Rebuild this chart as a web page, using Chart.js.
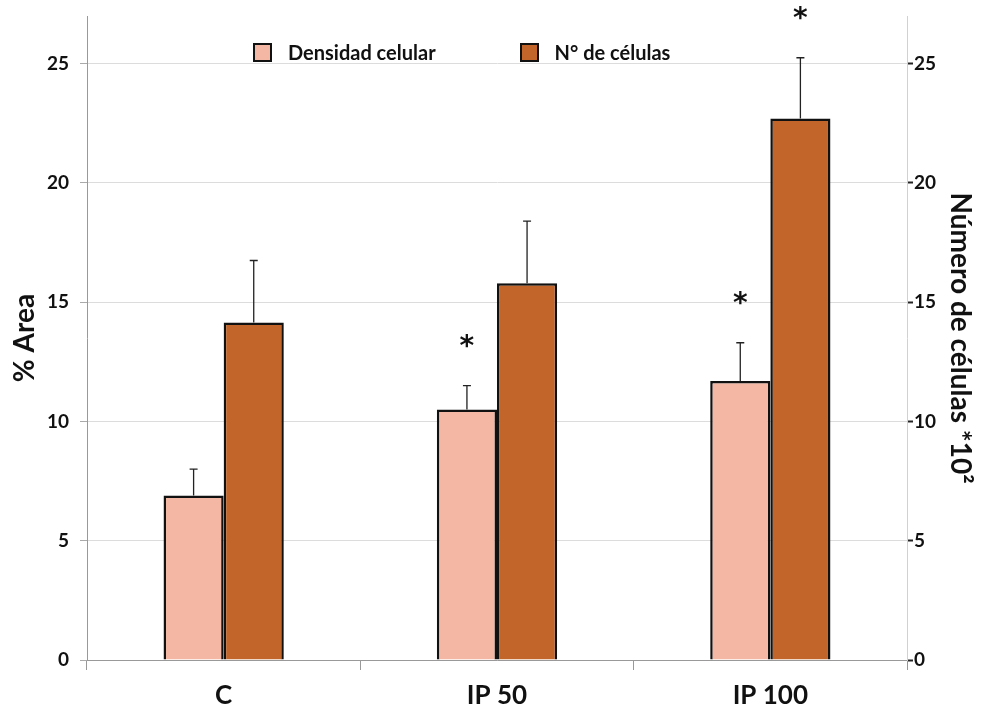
<!DOCTYPE html>
<html lang="es">
  <head>
    <meta charset="UTF-8" />
    <title>Densidad celular</title>
    <script src="https://cdn.jsdelivr.net/npm/chart.js"></script>
    <style>
      html, body { margin: 0; padding: 0; background: #fff; }
      #wrap { position: relative; width: 981px; height: 713px; }
      #leyenda {
        position: absolute; top: 40px; left: 253px;
        font: bold 20px Lato, sans-serif; color: #111;
        display: flex; align-items: center;
      }
      .item { display: flex; align-items: center; }
      .caja { width: 15px; height: 15px; border: 2.5px solid #111; margin-right: 16px; }
    </style>
  </head>
  <body>
    <div id="wrap">
      <canvas id="grafico" width="981" height="713"></canvas>
      <div id="leyenda"></div>
    </div>
    <script>
      // datos
      const grupos = ["C", "IP 50", "IP 100"];
      const densidad = [6.9, 10.5, 11.7];
      const densidadErr = [1.1, 1.0, 1.6];
      const densidadSig = [false, true, true];
      const celulas = [14.15, 15.8, 22.7];
      const celulasErr = [2.6, 2.6, 2.55];
      const celulasSig = [false, false, true];
      const ticksIzq = [0, 5, 10, 15, 20, 25];

      const colorDensidad = "#F3B7A3";
      const colorCelulas = "#C2652A";

      // barras de error (solo hacia arriba) y asteriscos
      const errorPlugin = {
        id: "errores",
        afterDatasetsDraw(chart) {
          const ctx = chart.ctx;
          chart.data.datasets.forEach((ds, i) => {
            const meta = chart.getDatasetMeta(i);
            const y = chart.scales[ds.yAxisID];
            meta.data.forEach((bar, j) => {
              const top = y.getPixelForValue(ds.data[j] + ds.errores[j]);
              ctx.save();
              ctx.strokeStyle = "#222";
              ctx.lineWidth = 1.3;
              ctx.beginPath();
              ctx.moveTo(bar.x, bar.y);
              ctx.lineTo(bar.x, top);
              ctx.moveTo(bar.x - 4, top);
              ctx.lineTo(bar.x + 4, top);
              ctx.stroke();
              if (ds.sig[j]) {
                ctx.fillStyle = "#111";
                ctx.font = "bold 28px 'DejaVu Sans', sans-serif";
                ctx.textAlign = "center";
                ctx.textBaseline = "middle";
                ctx.fillText("*", bar.x, top - 38);
              }
              ctx.restore();
            });
          });
        },
      };

      const soloCinco = (scale) => {
        scale.ticks = scale.ticks.filter((t) => ticksIzq.includes(t.value));
      };

      // anchos fijos de los ejes para que el área coincida con el original
      const anchoEje = (ancho) => (scale) => {
        scale.width = ancho;
        scale.paddingTop = 0;
        scale.paddingBottom = 0;
      };

      const grafico = new Chart(document.getElementById("grafico"), {
        type: "bar",
        data: {
          labels: grupos,
          datasets: [
            {
              label: "Densidad celular",
              data: densidad,
              errores: densidadErr,
              sig: densidadSig,
              backgroundColor: colorDensidad,
              borderColor: "#111",
              borderWidth: 2.5,
              borderSkipped: "bottom",
              yAxisID: "y",
              barPercentage: 1.0,
              categoryPercentage: 0.44,
            },
            {
              label: "N° de células",
              data: celulas,
              errores: celulasErr,
              sig: celulasSig,
              backgroundColor: colorCelulas,
              borderColor: "#111",
              borderWidth: 2.5,
              borderSkipped: "bottom",
              yAxisID: "y2",
              barPercentage: 1.0,
              categoryPercentage: 0.44,
            },
          ],
        },
        options: {
          responsive: false,
          animation: false,
          layout: { padding: { top: 16, right: 0, bottom: 0, left: 0 } },
          plugins: {
            legend: { display: false },
            tooltip: { enabled: false },
          },
          scales: {
            x: {
              afterFit: (scale) => { scale.height = 53; },
              grid: {
                display: true,
                drawOnChartArea: false,
                tickLength: 10,
                color: "#999",
              },
              border: { color: "#999" },
              ticks: {
                color: "#111",
                font: { family: "Lato", size: 26, weight: "bold", lineHeight: 1.35 },
                padding: 8,
              },
            },
            y: {
              position: "left",
              min: 0,
              max: 27,
              afterBuildTicks: soloCinco,
              afterFit: anchoEje(87),
              ticks: {
                stepSize: 5,
                color: "#111",
                font: { family: "Lato", size: 19, weight: "bold" },
                padding: 11,
              },
              grid: { color: "#dcdcdc", tickColor: "#aaa", tickLength: 7 },
              border: { color: "#999" },
              title: {
                display: true,
                text: "% Area",
                color: "#111",
                font: { family: "Lato", size: 28, weight: "bold", lineHeight: 1 },
                padding: { top: 11, bottom: 0 },
              },
            },
            y2: {
              position: "right",
              min: 0,
              max: 27,
              afterBuildTicks: soloCinco,
              afterFit: anchoEje(74),
              ticks: {
                stepSize: 5,
                color: "#111",
                font: { family: "Lato", size: 19, weight: "bold" },
                padding: 1,
              },
              grid: {
                drawOnChartArea: false,
                tickColor: "#222",
                tickLength: 6,
                tickWidth: 2,
              },
              border: { color: "#c9d2e3" },
              title: {
                display: true,
                text: "Número de células *10²",
                color: "#111",
                font: { family: "Lato", size: 28, weight: "bold", lineHeight: 1 },
                padding: { top: 7, bottom: 0 },
              },
            },
          },
        },
        plugins: [errorPlugin],
      });

      // leyenda dentro del área del gráfico
      const leyenda = document.getElementById("leyenda");
      grafico.data.datasets.forEach((ds, i) => {
        const item = document.createElement("div");
        item.className = "item";
        if (i > 0) item.style.marginLeft = "84px";
        const caja = document.createElement("span");
        caja.className = "caja";
        caja.style.background = ds.backgroundColor;
        const txt = document.createElement("span");
        txt.textContent = ds.label;
        item.appendChild(caja);
        item.appendChild(txt);
        leyenda.appendChild(item);
      });
    </script>
  </body>
</html>
